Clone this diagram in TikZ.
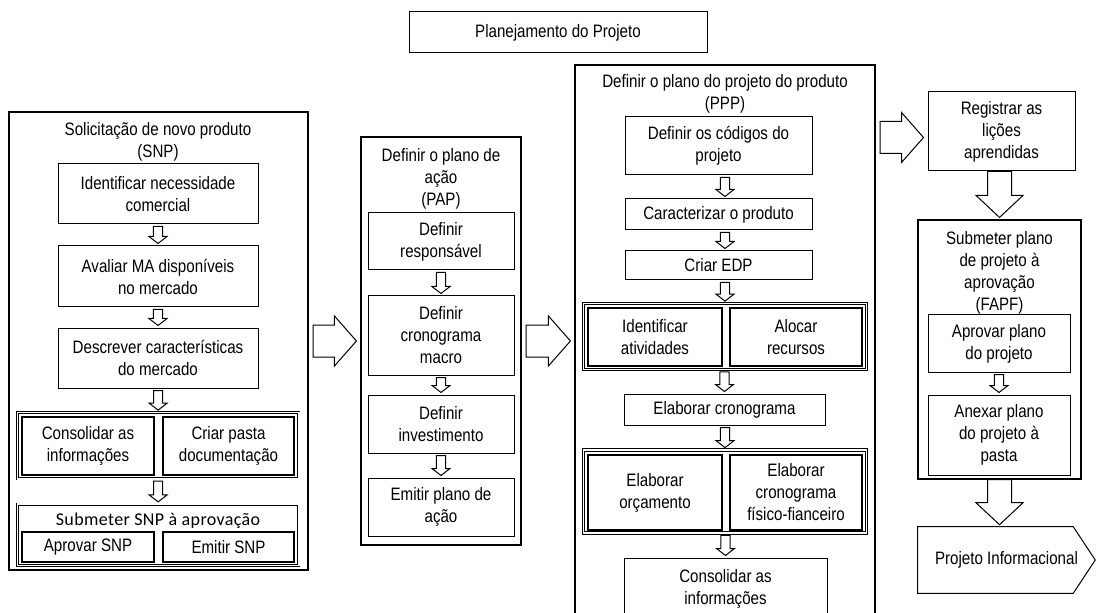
\documentclass[tikz,border=0pt]{standalone}
\usepackage{fontspec}
\setmainfont{Liberation Sans}[FakeStretch=0.84]
\newfontfamily\stepfont{Carlito}[LetterSpace=2]
\usetikzlibrary{calc}

% small hollow arrow from #2 down to #3, placed at the x of #1
\newcommand\vflowx[3]{%
  \draw[flowarrow] let \p1=(#2.south), \p2=(#3.north), \p3=(#1.center) in
    (\x3-3.4pt,\y1-1.5pt) -- (\x3-3.4pt,\y2+6.75pt) -- (\x3-6.75pt,\y2+6.75pt) --
    (\x3,\y2+1.5pt) -- (\x3+6.75pt,\y2+6.75pt) -- (\x3+3.4pt,\y2+6.75pt) --
    (\x3+3.4pt,\y1-1.5pt) -- cycle;}
\newcommand\vflow[2]{\vflowx{#2}{#1}{#2}}
% large hollow arrow pointing down, from #2 to #3 at the x of #1
\newcommand\bigdown[3]{%
  \draw[flowarrow] let \p1=(#2.south), \p2=(#3.north), \p3=(#1.center) in
    (\x3-9pt,\y1) -- (\x3-9pt,\y2+18pt) -- (\x3-17.6pt,\y2+18pt) --
    (\x3,\y2+1.5pt) -- (\x3+17.6pt,\y2+18pt) -- (\x3+9pt,\y2+18pt) --
    (\x3+9pt,\y1) -- cycle;}
% large hollow arrow pointing right, from #1 to #2 at the y of #3 shifted by #4
\newcommand\bigright[4]{%
  \draw[flowarrow] let \p1=(#1.east), \p2=(#2.west), \p3=($(#3.center)+(0pt,#4)$) in
    (\x1+3.5pt,\y3+12pt) -- (\x2-19.5pt,\y3+12pt) -- (\x2-19.5pt,\y3+18.75pt) --
    (\x2-3pt,\y3) -- (\x2-19.5pt,\y3-18.75pt) -- (\x2-19.5pt,\y3-12pt) --
    (\x1+3.5pt,\y3-12pt) -- cycle;}

\begin{document}
\begin{tikzpicture}[x=0.75pt,y=-0.75pt,
  every node/.style={font=\fontsize{13.5}{16.5}\selectfont, align=center},
  rect/.style args={#1/#2/#3/#4}{inner sep=0pt,
    minimum width={(#3-#1)*0.75pt}, minimum height={(#4-#2)*0.75pt},
    at={({(#1+#3)/2},{(#2+#4)/2})}},
  box/.style={draw, line width=0.75pt},
  container/.style={draw, line width=0.85pt},
  groupframe/.style={draw, double, double distance=1.2pt, line width=0.55pt},
  subbox/.style={draw, line width=1.1pt},
  heading/.style={inner sep=0pt},
  flowarrow/.style={draw, line width=0.75pt, fill=white, line join=miter},
]
\useasboundingbox (0,0) rectangle (1097,613);
\clip (0,0) rectangle (1097,613);

% title
\node[box, rect=409/12/707/53] (ttl) {Planejamento do Projeto};

% SNP
\node[container, rect=9/112/308/570] (snp) {};
\node[heading] (snpT) at (158,141.5) {Solicitação de novo produto\\(SNP)};
\node[box, rect=58/164/258/224] (idn) {Identificar necessidade\\comercial};
\node[box, rect=58/246/258/307] (ava) {Avaliar MA disponíveis\\no mercado};
\node[box, rect=58/328/258/388] (desc) {Descrever características\\do mercado};
\node[groupframe, rect=17.5/412.5/298.75/478.75] (g1) {};
\node[subbox, rect=22/417/154/475] (cons) {Consolidar as\\informações};
\node[subbox, rect=163/417/294/475] (pasta) {Criar pasta\\documentação};
\node[groupframe, rect=17.5/504.25/298.75/565.5] (g2) {};
\node[heading, font=\stepfont\fontsize{13.5}{16.5}\selectfont] (g2T) at (158,521) {Submeter SNP à aprovação};
\node[subbox, rect=22/532/154/562] (aprS) {Aprovar SNP};
\node[subbox, rect=163/532/294/562] (emiS) {Emitir SNP};

% PAP
\node[container, rect=361/137/521/545] (pap) {};
\node[heading] (papT) at (441,178.5) {Definir o plano de\\ação\\(PAP)};
\node[box, rect=368/213/514/270] (resp) {Definir\\responsável};
\node[box, rect=368/296/514/375] (crono) {Definir\\cronograma\\macro};
\node[box, rect=368/395/514/453] (inv) {Definir\\investimento};
\node[box, rect=368/478/514/536] (emit) {Emitir plano de\\ação};

% PPP
\node[container, rect=575/65/875/640] (ppp) {};
\node[heading] (pppT) at (725,93.5) {Definir o plano do projeto do produto\\(PPP)};
\node[box, rect=625/117/812/175] (codes) {Definir os códigos do\\projeto};
\node[box, rect=625/199/812/230] (carac) {Caracterizar o produto};
\node[box, rect=625/251/812/280] (edp) {Criar EDP};
\node[groupframe, rect=583.5/303.5/866.5/369.5] (g3) {};
\node[subbox, rect=588/308/722/366] (ativ) {Identificar\\atividades};
\node[subbox, rect=730/308/862/366] (recs) {Alocar\\recursos};
\node[box, rect=624/394/825/425] (cron) {Elaborar cronograma};
\node[groupframe, rect=583.5/450/866.5/533] (g4) {};
\node[subbox, rect=588/455/722/530] (orc) {Elaborar\\orçamento};
\node[subbox, rect=730/455/862/530] (fisf) {Elaborar\\cronograma\\físico-fianceiro};
\node[box, rect=624/558/827/620] (consol) {Consolidar as\\informações};

% lessons learned and approval
\node[box, rect=928/92/1075/171] (reg) {Registrar as\\lições\\aprendidas};
\node[container, rect=918/220/1081/479] (fapf) {};
\node[heading] (fapfT) at (999.5,273) {Submeter plano\\de projeto à\\aprovação\\(FAPF)};
\node[box, rect=928/315/1070/372] (apr) {Aprovar plano\\do projeto};
\node[box, rect=928/395/1070/475] (anx) {Anexar plano\\do projeto à\\pasta};

% next phase
\node[rect=918/527/1095/593] (pinf) {Projeto Informacional};
\draw[line width=0.75pt] (pinf.north west) -- ([xshift=-16.5pt]pinf.north east) -- (pinf.east)
  -- ([xshift=-16.5pt]pinf.south east) -- (pinf.south west) -- cycle;

% flow arrows
\vflow{idn}{ava}
\vflow{ava}{desc}
\vflow{desc}{g1}
\vflow{g1}{g2}
\vflow{resp}{crono}
\vflow{crono}{inv}
\vflow{inv}{emit}
\vflowx{ppp}{codes}{carac}
\vflowx{ppp}{carac}{edp}
\vflow{edp}{g3}
\vflow{g3}{cron}
\vflow{cron}{g4}
\vflow{g4}{consol}
\vflow{apr}{anx}
\bigright{snp}{pap}{snp}{0pt}
\bigright{pap}{ppp}{pap}{0pt}
\bigright{ppp}{reg}{reg}{-4.5pt}
\bigdown{fapf}{reg}{fapf}
\bigdown{fapf}{fapf}{pinf}
\end{tikzpicture}
\end{document}
